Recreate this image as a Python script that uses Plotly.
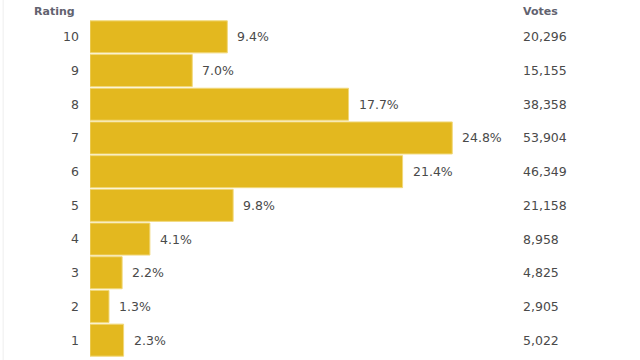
import plotly.graph_objects as go

ratings = ["10", "9", "8", "7", "6", "5", "4", "3", "2", "1"]
percents = [9.4, 7.0, 17.7, 24.8, 21.4, 9.8, 4.1, 2.2, 1.3, 2.3]
votes = ["20,296", "15,155", "38,358", "53,904", "46,349", "21,158", "8,958", "4,825", "2,905", "5,022"]

FONT = "DejaVu Sans"
TXT = "#4a4a4a"
HDR = "#62626f"

fig = go.Figure(go.Bar(
    x=percents, y=ratings, orientation="h",
    marker=dict(color="#E3B81F", line=dict(color="#F1D87A", width=1)),
    hoverinfo="skip",
))

annotations = []
for i, (p, v) in enumerate(zip(percents, votes)):
    annotations.append(dict(x=p, y=i, xref="x", yref="y", text=f"{p:.1f}%",
                            showarrow=False, xanchor="left", xshift=8,
                            font=dict(family=FONT, size=12.5, color=TXT)))
    annotations.append(dict(x=0.829, y=i, xref="paper", yref="y", text=v,
                            showarrow=False, xanchor="left",
                            font=dict(family=FONT, size=12.5, color=TXT)))

annotations.append(dict(x=-0.025, y=1.024, xref="paper", yref="paper", text="<b>Rating</b>",
                        showarrow=False, xanchor="right", yanchor="middle",
                        font=dict(family=FONT, size=11, color=HDR)))
annotations.append(dict(x=0.829, y=1.024, xref="paper", yref="paper", text="<b>Votes</b>",
                        showarrow=False, xanchor="left", yanchor="middle",
                        font=dict(family=FONT, size=11, color=HDR)))

fig.update_layout(
    width=640, height=360,
    margin=dict(l=90, r=30, t=20, b=3, autoexpand=False),
    paper_bgcolor="white", plot_bgcolor="white",
    bargap=0.05,
    showlegend=False,
    annotations=annotations,
    shapes=[dict(type="line", xref="paper", yref="paper", x0=-0.167, x1=-0.167, y0=-0.01, y1=1.06,
                 line=dict(color="#eeeeee", width=1))],
    xaxis=dict(range=[0, 35.6], visible=False, fixedrange=True, automargin=False),
    yaxis=dict(type="category", autorange="reversed", showgrid=False, zeroline=False,
               showline=False, ticks="", ticklabelstandoff=10, automargin=False,
               tickfont=dict(family=FONT, size=12.5, color=TXT), fixedrange=True),
)

fig.write_html("out.html", config={"displayModeBar": False},
               post_script="document.body.style.margin='0';")
